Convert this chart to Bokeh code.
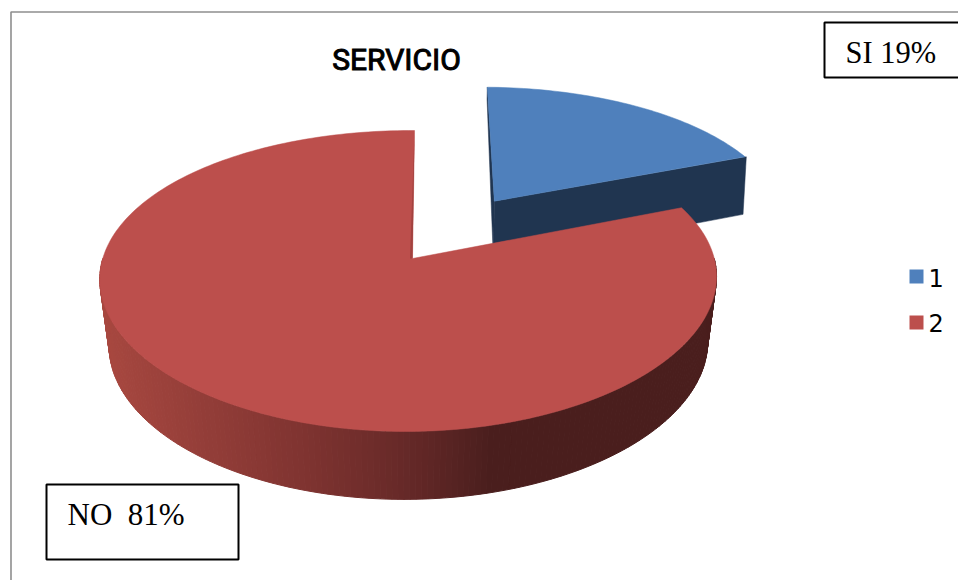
import numpy as np
from bokeh.core.properties import value
from bokeh.embed import file_html
from bokeh.models import Range1d
from bokeh.plotting import figure
from bokeh.resources import INLINE

# Survey results
title = "SERVICIO"
legend_labels = ["1", "2"]
shares = [19, 81]
callouts = ["SI 19%", "NO\u00a0\u00a081%"]

BLUE, BLUE_DARK = "#4F80BC", "#203550"
RED, RED_CUT = "#BC4F4C", "#A2423F"

# Camera model of the tilted pie, in page pixels
APEX_X, APEX_Y = 412.0, 258.0
RX, RY, SKEW = 305.7, 147.1, 2.3
K_X, K_Y, K_U = 0.13, 0.1495, 0.013


def project(u, v, drop=0.0, shrink_x=0.0, shrink_y=0.0):
    """Map a point on the pie's unit disc to the page; the extras give the lower rim."""
    wx = 1 + K_X * v + K_U * u + shrink_x
    wy = 1 + K_Y * v + K_U * u + shrink_y
    return APEX_X + (RX * u + SKEW * v) / wx, APEX_Y + (drop - RY * v) / wy


def rim(start, end, n, du=0.0, dv=0.0):
    t = np.linspace(start, end, n)
    return np.sin(t) + du, np.cos(t) + dv


def side_color(x):
    """Left-to-right shading of the pie's outer wall."""
    xs = [100, 200, 300, 400, 490, 960]
    rs = [0xA8, 0x94, 0x80, 0x68, 0x4B, 0x4A]
    gs = [0x48, 0x3E, 0x34, 0x2A, 0x1F, 0x1E]
    bs = [0x40, 0x39, 0x31, 0x29, 0x1E, 0x1D]
    return "#%02X%02X%02X" % (
        int(np.interp(x, xs, rs)), int(np.interp(x, xs, gs)), int(np.interp(x, xs, bs)))


p = figure(width=958, height=580, output_backend="svg", toolbar_location=None,
           x_range=Range1d(0, 958), y_range=Range1d(580, 0), min_border=0,
           background_fill_color="white", border_fill_color="white",
           outline_line_color=None)
p.axis.visible = False
p.grid.visible = False

# Chart frame, open towards the page's right and bottom
p.line([10.5, 10.5, 958], [580, 11.5, 11.5], line_color="#8E8E8E", line_width=1.6)

si_angle = 2 * np.pi * shares[0] / sum(shares)

# Blue slice, pulled out along its bisector
du, dv = 0.28, 0.415
BLUE_LOW = dict(drop=64.5, shrink_x=0.011, shrink_y=0.016)
ca, sa = 1.005 * np.sin(si_angle), np.cos(si_angle)
ax0, ay0 = project(du, dv)
cx0, cy0 = project(du + ca, dv + sa)
ax1, ay1 = project(du, dv, **BLUE_LOW)
cx1, cy1 = project(du + ca, dv + sa, **BLUE_LOW)
p.patch([ax0, cx0, cx1, ax1], [ay0, cy0, cy1, ay1],
        fill_color=BLUE_DARK, line_color=BLUE_DARK, line_width=0.5)
tx, ty = project(du, dv + 1)
tx1, ty1 = project(du, dv + 1, 14, 0.004, 0.004)
p.patch([tx, ax0, ax1, tx1], [ty, ay0, ay1, ty1],
        fill_color=BLUE_DARK, line_color=BLUE_DARK, line_width=0.5)
u, v = rim(0, si_angle, 60, du, dv)
bx, by = project(u, v)
p.patch(np.r_[ax0, bx], np.r_[ay0, by], fill_color=BLUE, line_color=BLUE, line_width=0.5)

# Red slice: outer wall as shaded strips, then its top face
RED_LOW = dict(drop=69.3, shrink_x=0.03, shrink_y=0.048)
u, v = rim(np.pi / 2, 3 * np.pi / 2, 181)
top_x, top_y = project(u, v)
low_x, low_y = project(u, v, **RED_LOW)
strip_x, strip_y, strip_c = [], [], []
for i in range(len(u) - 1):
    strip_x.append([top_x[i], top_x[i + 1], low_x[i + 1], low_x[i]])
    strip_y.append([top_y[i], top_y[i + 1], low_y[i + 1], low_y[i]])
    strip_c.append(side_color((top_x[i] + top_x[i + 1]) / 2))
p.patches(strip_x, strip_y, fill_color=strip_c, line_color=strip_c, line_width=1)

u, v = rim(si_angle, 2 * np.pi, 240)
rx, ry = project(u, v)
p.patch(np.r_[APEX_X, rx], np.r_[APEX_Y, ry], fill_color=RED, line_color=RED, line_width=0.5)

# Thin darker sliver where the notch wall shows
nx, ny = project(0.0, 1.0)
p.patch([nx, APEX_X, APEX_X - 2.5], [ny, APEX_Y, APEX_Y],
        fill_color=RED_CUT, line_color=None)

# Title, with a hairline outline to thicken its strokes
p.text([396], [59], text=[title], text_font=value("Roboto"),
       text_font_size="30px", text_align="center",
       text_baseline="alphabetic", text_color="black", outline_color="black")

# Callout boxes
p.quad(left=[824, 46], right=[975, 238], top=[22, 484], bottom=[77, 559],
       fill_color="white", line_color="black", line_width=2)
p.text([845, 67], [52, 514], text=callouts, text_font=value("Liberation Serif"),
       text_font_size=["30.5px", "31px"], text_baseline="alphabetic", text_color="black")

# Legend
p.quad(left=[909, 909], right=[923, 923], top=[269, 315], bottom=[283, 329],
       fill_color=[BLUE, RED], line_color=None)
p.text([928, 928], [277, 322], text=legend_labels, text_font=value("DejaVu Sans"),
       text_font_size="24px", text_baseline="alphabetic", text_color="black")

open("out.html", "w").write(file_html(p, INLINE))
